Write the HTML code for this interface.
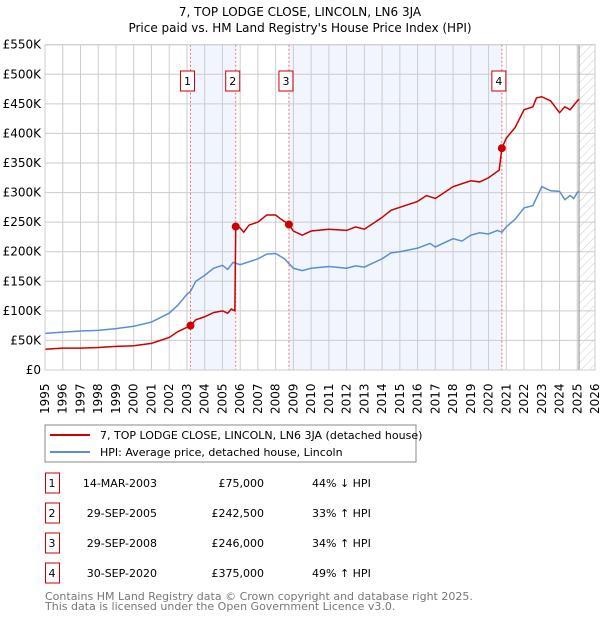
<!DOCTYPE html>
<html><head><meta charset="utf-8"><style>
body{margin:0;background:#fff;font-family:"DejaVu Sans","Liberation Sans",sans-serif;}
svg{display:block}
</style></head><body>
<svg id="c" width="600" height="620" xmlns="http://www.w3.org/2000/svg" font-family="DejaVu Sans, Liberation Sans, sans-serif">
<defs><pattern id="hatch" width="6" height="6" patternUnits="userSpaceOnUse" patternTransform="rotate(45)"><line x1="0" y1="0" x2="0" y2="6" stroke="#ccc" stroke-width="1"/></pattern></defs>
<text x="300" y="16" text-anchor="middle" font-size="12">7, TOP LODGE CLOSE, LINCOLN, LN6 3JA</text>
<text x="300" y="32" text-anchor="middle" font-size="12">Price paid vs. HM Land Registry's House Price Index (HPI)</text>
<g id="plot"></g>
<rect x="45" y="425" width="371" height="37" fill="#fff" stroke="#888"/>
<line x1="50" y1="435" x2="90" y2="435" stroke="#cc0000" stroke-width="2"/>
<text x="100" y="439" font-size="11">7, TOP LODGE CLOSE, LINCOLN, LN6 3JA (detached house)</text>
<line x1="50" y1="452" x2="90" y2="452" stroke="#5b8fd0" stroke-width="2"/>
<text x="100" y="456" font-size="11">HPI: Average price, detached house, Lincoln</text>
<g id="table" font-size="11"></g>
<text x="45" y="600" font-size="11" fill="#777">Contains HM Land Registry data © Crown copyright and database right 2025.</text>
<text x="45" y="610" font-size="11" fill="#777">This data is licensed under the Open Government Licence v3.0.</text>
</svg>
<script>
const hpiX=[1995,1996,1997,1998,1999,2000,2001,2002,2002.5,2003,2003.2,2003.5,2004,2004.5,2005,2005.3,2005.6,2006,2006.5,2007,2007.5,2008,2008.5,2009,2009.5,2010,2011,2012,2012.5,2013,2014,2014.5,2015,2016,2016.7,2017,2018,2018.5,2019,2019.5,2020,2020.5,2020.75,2021,2021.5,2022,2022.5,2023,2023.5,2024,2024.3,2024.6,2024.8,2025,2025.1];
const hpiY=[62,64,66,67,70,74,81,96,110,128,133,150,160,172,177,170,182,178,183,188,196,197,188,172,168,172,175,172,176,174,188,198,200,206,214,208,222,218,228,232,230,236,233,242,255,274,278,310,303,302,288,295,290,300,302];
const ppX=[1995,1996,1997,1998,1999,2000,2001,2002,2002.5,2003.2,2003.5,2004,2004.5,2005,2005.3,2005.5,2005.7,2005.75,2006,2006.2,2006.5,2007,2007.5,2008,2008.3,2008.75,2009,2009.5,2010,2011,2012,2012.5,2013,2013.5,2014,2014.5,2015,2016,2016.5,2017,2017.5,2018,2019,2019.5,2020,2020.6,2020.75,2021,2021.5,2022,2022.5,2022.7,2023,2023.5,2024,2024.3,2024.6,2025,2025.1];
const ppY=[35,37,37,38,40,41,45,55,65,75,85,90,97,100,96,103,100,242.5,240,233,245,250,262,262,255,246,235,228,235,238,236,242,238,248,258,270,275,285,295,290,300,310,320,318,325,338,375,392,410,440,445,460,462,455,435,445,440,455,458];
const saleX=[2003.2,2005.75,2008.75,2020.75];
const saleY=[75,242.5,246,375];
const saleLabels=["1","2","3","4"];
const saleDates=["14-MAR-2003","29-SEP-2005","29-SEP-2008","30-SEP-2020"];
const salePrices=["£75,000","£242,500","£246,000","£375,000"];
const saleHpi=["44% ↓ HPI","33% ↑ HPI","34% ↑ HPI","49% ↑ HPI"];
const yTicks=[0,50,100,150,200,250,300,350,400,450,500,550];
const yearTicks=[];for(let y=1995;y<=2026;y++)yearTicks.push(y);

const NS="http://www.w3.org/2000/svg";
const X0=45,X1=595,Y0=370,Y1=44.7;
const xs=v=>X0+(v-1995)*(X1-X0)/31;
const ys=v=>Y0-v*(Y0-Y1)/550;
const g=document.getElementById('plot');
function mk(tag,attrs,parent){const e=document.createElementNS(NS,tag);for(const k in attrs)e.setAttribute(k,attrs[k]);(parent||g).appendChild(e);return e;}
let r=mk('rect',{x:xs(saleX[0]),y:Y1,width:xs(saleX[1])-xs(saleX[0]),height:Y0-Y1,fill:'#eef3fc',opacity:0.8});


r=mk('rect',{x:xs(saleX[2]),y:Y1,width:xs(saleX[3])-xs(saleX[2]),height:Y0-Y1,fill:'#eef3fc',opacity:0.8});


r=mk('rect',{x:xs(2025.1),y:Y1,width:X1-xs(2025.1),height:Y0-Y1,fill:'url(#hatch)'});


yTicks.forEach(t=>{const l=mk('line',{x1:X0,x2:X1,y1:ys(t),y2:ys(t),stroke:'#ccc'});


const tx=mk('text',{x:X0-4,y:ys(t)+4,'text-anchor':'end','font-size':12});tx.textContent=t===0?'£0':'£'+t+'K';

});
yearTicks.forEach(t=>{const l=mk('line',{x1:xs(t),x2:xs(t),y1:Y1,y2:Y0,stroke:'#ccc'});


const tx=mk('text',{x:0,y:0,'font-size':12,transform:`translate(${xs(t)+4},${Y0+44}) rotate(-90)`});tx.textContent=t;

});
r=mk('line',{x1:xs(2025.1),x2:xs(2025.1),y1:Y1,y2:Y0,stroke:'#888'});


saleX.forEach((s,i)=>{const l=mk('line',{x1:xs(s),x2:xs(s),y1:Y1,y2:Y0,stroke:'#f07070','stroke-dasharray':'2,2'});


const bx=mk('rect',{x:xs(s)-10,y:71,width:14,height:20,fill:'#fff',stroke:'#cc0000'});


const tx=mk('text',{x:xs(s)-3,y:85,'text-anchor':'middle','font-size':11});tx.textContent=saleLabels[i];

});
const p1=mk('polyline',{points:hpiX.map((x,i)=>xs(x)+','+ys(hpiY[i])).join(' '),fill:'none',stroke:'#5b8fd0','stroke-width':1.5});


const p2=mk('polyline',{points:ppX.map((x,i)=>xs(x)+','+ys(ppY[i])).join(' '),fill:'none',stroke:'#cc0000','stroke-width':1.5});


saleX.forEach((s,i)=>{const c=mk('circle',{cx:xs(s),cy:ys(saleY[i]),r:4,fill:'#cc0000'});

});
const b=mk('rect',{x:X0,y:Y1,width:X1-X0,height:Y0-Y1,fill:'none',stroke:'#ccc'});


const tb=document.getElementById('table');
saleLabels.forEach((lab,i)=>{const cy=483+i*30;
const bx=mk('rect',{x:45.5,y:cy-10,width:14,height:20,fill:'#fff',stroke:'#cc0000'},tb);


const cells=[[52,lab,'middle'],[157,saleDates[i],'end'],[264,salePrices[i],'end'],[312,saleHpi[i],'start']];
cells.forEach((c,j)=>{const t=mk('text',{x:c[0],y:cy+4,'text-anchor':c[2]},tb);t.textContent=c[1];

});});
</script>
</body></html>
